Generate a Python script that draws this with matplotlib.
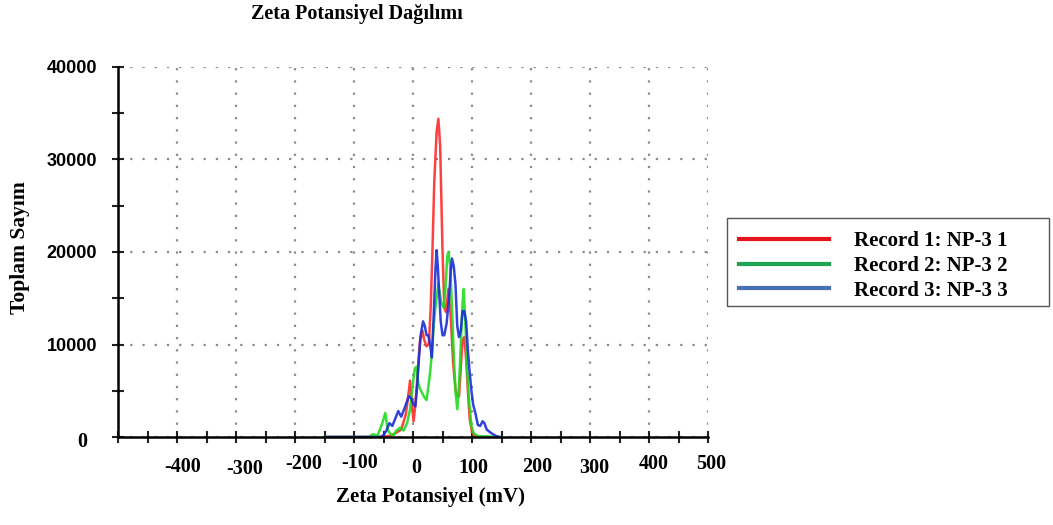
import numpy as np
import matplotlib.pyplot as plt
from matplotlib.lines import Line2D
from matplotlib.patches import Rectangle
from matplotlib.transforms import ScaledTranslation

# zeta potential (mV) vs total count
x_red = [-150, -60, -40, -30, -20, -12, -8, -5, -2, 1, 4, 8, 12, 16, 19, 23, 27, 30,
         33, 36, 40, 43, 46, 50, 53, 56, 60, 64, 68, 72, 75, 78, 81, 84, 87, 90, 93,
         96, 100, 105, 110]
y_red = [0, 0, 100, 400, 800, 2500, 4500, 6100, 3500, 1700, 3500, 7000, 10500, 11500,
         10500, 9800, 10100, 14000, 20200, 27500, 33000, 34400, 31500, 20200, 14000,
         13500, 16000, 13000, 8000, 5200, 4400, 4400, 7500, 10500, 10800, 8500, 5000,
         2000, 500, 100, 0]

x_green = [-150, -75, -68, -60, -52, -47, -43, -38, -33, -28, -22, -16, -10, -5, -1, 3,
           6, 9, 12, 16, 20, 23, 26, 29, 32, 35, 38, 43, 48, 52, 55, 58, 60, 63, 66,
           69, 72, 75, 78, 81, 84, 86, 89, 92, 95, 99, 103, 110, 147]
y_green = [0, 0, 300, 150, 1500, 2600, 800, 300, 200, 700, 1000, 700, 1500, 3000, 5400,
           7400, 7600, 5800, 5200, 4700, 4200, 4000, 5400, 7000, 9000, 12000, 14000,
           16600, 14500, 14000, 16000, 19500, 20000, 18500, 14000, 9000, 5000, 3000,
           5500, 10000, 14500, 16000, 12000, 7000, 4000, 1200, 400, 100, 0]

x_blue = [-148, -55, -50, -45, -40, -35, -30, -25, -20, -15, -11, -7, -3, 1, 4, 7, 10,
          13, 17, 20, 23, 26, 29, 32, 35, 38, 40, 42, 44, 47, 50, 53, 57, 61, 64, 66,
          69, 72, 75, 78, 81, 84, 87, 90, 93, 96, 99, 102, 106, 110, 114, 118, 121,
          125, 129, 133, 137, 141, 147]
y_blue = [0, 0, 200, 700, 1500, 1200, 2000, 2800, 2200, 3000, 3700, 4400, 4200, 3500,
          3300, 5500, 8500, 11000, 12500, 12000, 11000, 11000, 10000, 8600, 13000,
          18000, 20200, 18500, 16000, 12500, 11000, 11000, 12300, 15000, 18000, 19300,
          18500, 16500, 12000, 10800, 11500, 13600, 13600, 12500, 9400, 7000, 5000,
          3500, 2500, 1300, 1200, 1700, 1500, 800, 600, 400, 250, 100, 0]

labels = ['Record 1: NP-3 1', 'Record 2: NP-3 2', 'Record 3: NP-3 3']
x_ticks = [-500, -400, -300, -200, -100, 0, 100, 200, 300, 400, 500]
x_ticklabels = ['', '-400', '-300', '-200', '-100', '0', '100', '200', '300', '400', '500']
y_ticks = [0, 10000, 20000, 30000, 40000]
y_ticklabels = ['', '10000', '20000', '30000', '40000']

W, H = 1053, 525
serif = 'Liberation Serif'

fig = plt.figure(figsize=(W / 100, H / 100), dpi=100)
ax = fig.add_axes([118 / W, 1 - 437 / H, (708 - 118) / W, (437 - 67) / H])

ax.plot(x_red, y_red, color='#ff2b2b', lw=1.8, alpha=0.9, zorder=3)
ax.plot(x_green, y_green, color='#1fdc1f', lw=1.8, alpha=0.9, zorder=3)
ax.plot(x_blue, y_blue, color='#1a2ed6', lw=1.8, alpha=0.9, zorder=4)

ax.set_xlim(-500, 500)
ax.set_ylim(0, 40000)
for s in ['top', 'right']:
    ax.spines[s].set_visible(False)
for s in ['left', 'bottom']:
    ax.spines[s].set_linewidth(1.8)
    ax.spines[s].set_zorder(5)

ax.set_xticks(x_ticks)
ax.set_xticklabels(x_ticklabels, fontfamily=serif, fontweight='bold', fontsize=14.5)
ax.set_xticks(np.arange(-450, 500, 100), minor=True)
ax.set_yticks(y_ticks)
ax.set_yticklabels(y_ticklabels, fontfamily='Liberation Sans', fontweight='bold', fontsize=13)
ax.set_yticks(np.arange(5000, 40000, 10000), minor=True)
ax.tick_params(axis='both', which='both', direction='inout', length=8, width=1.5, color='#222222')
ax.tick_params(axis='x', which='major', pad=11)
ax.tick_params(axis='y', which='major', pad=11)
ax.grid(True, which='major', linestyle=(0, (1, 4.5)), linewidth=1.6, color='#8a8a8a')

# the x labels in the original sit a little off their ticks
x_shift = [0, 6, 9, 9, 6, 3, 1, 6, 4, 5, 3]
y_shift = [0, -1, 1, -4, -5, 0, 0, -1, 0, -4, -4]
for lbl, dx, dy in zip(ax.get_xticklabels(), x_shift, y_shift):
    lbl.set_transform(lbl.get_transform() + ScaledTranslation(dx / 100, -dy / 100, fig.dpi_scale_trans))

# the lone serif zero of the y axis
fig.text(82 / W, 1 - 442 / H, '0', ha='center', va='center', fontfamily=serif,
         fontweight='bold', fontsize=14.5)

fig.text(357 / W, 1 - 14 / H, 'Zeta Potansiyel Dağılımı', ha='center', va='center',
         fontfamily=serif, fontweight='bold', fontsize=14.5)
fig.text(430 / W, 1 - 497 / H, 'Zeta Potansiyel (mV)', ha='center', va='center',
         fontfamily=serif, fontweight='bold', fontsize=15)
fig.text(20 / W, 1 - 248 / H, 'Toplam Sayım', ha='center', va='center', rotation=90,
         fontfamily=serif, fontweight='bold', fontsize=15.5)

# legend box
fig.add_artist(Rectangle((727 / W, 1 - 306 / H), (1049 - 727) / W, (306 - 218) / H,
                         transform=fig.transFigure, fill=False, edgecolor='#555555', lw=1))
handles = [Line2D([], [], color=c, lw=3) for c in ['#e8141c', '#1ea552', '#4a70b4']]
fig.legend(handles, labels, loc='center left', bbox_to_anchor=(739 / W, 1 - 266 / H),
           frameon=False, borderpad=0, borderaxespad=0, handlelength=4.3,
           handletextpad=1.2, labelspacing=0.22,
           prop={'family': serif, 'weight': 'bold', 'size': 15})

fig.savefig('out.png', dpi=100)
